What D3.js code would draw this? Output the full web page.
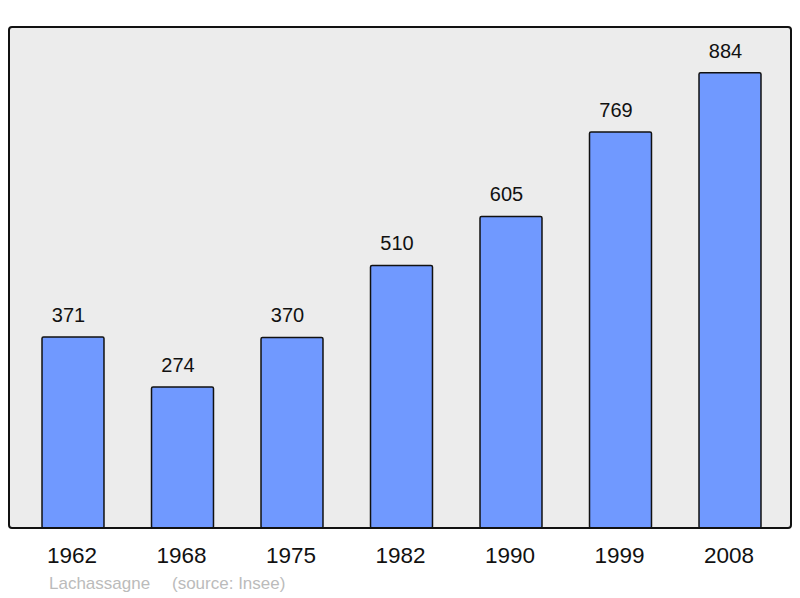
<!DOCTYPE html>
<html>
<head>
<meta charset="utf-8">
<script src="https://cdn.jsdelivr.net/npm/d3@7"></script>
<style>
  body { margin: 0; background: #fff; }
  svg { display: block; }
</style>
</head>
<body>
<svg width="800" height="598"></svg>
<script>
var years = ['1962', '1968', '1975', '1982', '1990', '1999', '2008'];
var population = [371, 274, 370, 510, 605, 769, 884];
var commune = 'Lachassagne';
var source = '(source: Insee)';

var frame = {left: 9, right: 791, top: 27, bottom: 528};
var svg = d3.select('svg');
var font = '"Liberation Sans", Arial, sans-serif';

var xScale = d3.scaleBand()
  .domain(years)
  .range([18.25, 784.75])
  .paddingInner(0.434)
  .paddingOuter(0.217);

var yScale = d3.scaleLinear()
  .domain([0, 973])
  .range([frame.bottom, frame.top]);

// background panel
svg.append('rect')
  .attr('x', frame.left)
  .attr('y', frame.top)
  .attr('width', frame.right - frame.left)
  .attr('height', frame.bottom - frame.top)
  .attr('rx', 3)
  .attr('fill', '#ececec');

var data = years.map((y, i) => ({year: y, value: population[i]}));

svg.selectAll('rect.bar')
  .data(data)
  .enter()
  .append('rect')
  .attr('class', 'bar')
  .attr('x', d => xScale(d.year))
  .attr('y', d => yScale(d.value))
  .attr('width', xScale.bandwidth())
  .attr('height', d => yScale(0) - yScale(d.value))
  .attr('rx', 1.5)
  .attr('fill', '#7099ff')
  .attr('stroke', '#111')
  .attr('stroke-width', 1.5);

// value labels sit a little left of the bar centre in the original
svg.selectAll('text.val')
  .data(data)
  .enter()
  .append('text')
  .attr('class', 'val')
  .attr('x', d => xScale(d.year) + xScale.bandwidth() / 2 - 4.5)
  .attr('y', d => yScale(d.value) - 15)
  .attr('text-anchor', 'middle')
  .attr('font-family', font)
  .attr('font-size', 20)
  .attr('fill', '#111')
  .text(d => d.value);

// frame border on top
svg.append('rect')
  .attr('x', frame.left)
  .attr('y', frame.top)
  .attr('width', frame.right - frame.left)
  .attr('height', frame.bottom - frame.top)
  .attr('rx', 3)
  .attr('fill', 'none')
  .attr('stroke', '#111')
  .attr('stroke-width', 2);

var xAxis = d3.axisBottom(xScale).tickSize(0).tickPadding(0);
var gx = svg.append('g')
  .attr('transform', `translate(0, ${frame.bottom})`)
  .call(xAxis);
gx.select('.domain').remove();
gx.selectAll('text')
  .attr('dy', null)
  .attr('x', -1)
  .attr('y', 35)
  .attr('font-family', font)
  .attr('font-size', 22.5)
  .attr('fill', '#111');

svg.append('text')
  .attr('x', 49)
  .attr('y', 589)
  .attr('font-family', font)
  .attr('font-size', 17)
  .attr('fill', '#bbb')
  .text(commune);

svg.append('text')
  .attr('x', 172)
  .attr('y', 589)
  .attr('font-family', font)
  .attr('font-size', 17)
  .attr('fill', '#bbb')
  .text(source);
</script>
</body>
</html>
